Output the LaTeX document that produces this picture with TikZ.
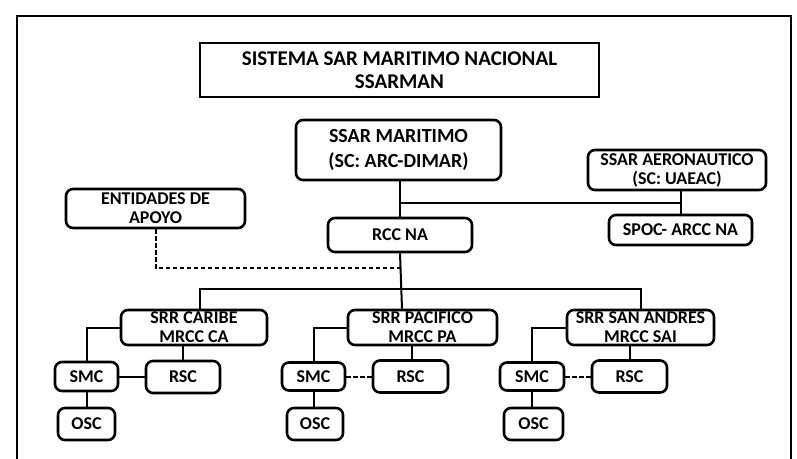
\documentclass[tikz,border=0pt]{standalone}
\usepackage{fontspec}
\setmainfont{Carlito}
\begin{document}
\begin{tikzpicture}[x=1pt,y=-1pt,
  box/.style={draw=black,line width=2.6pt,rounded corners=7pt,inner sep=0pt,align=center,font=\bfseries\fontsize{18}{19}\selectfont},
  bigbox/.style={box,font=\bfseries\fontsize{20}{25}\selectfont},
  titlebox/.style={draw=black,line width=2.4pt,inner sep=0pt,align=center,font=\bfseries\fontsize{21}{23}\selectfont},
  conn/.style={line width=2pt},
  dconn/.style={line width=2pt,dash pattern=on 4.5pt off 2.5pt}]
\useasboundingbox (0,0) rectangle (797,458);
\draw[line width=2pt] (17,470) -- (17,16) -- (791,16) -- (791,470);
% top level
\node[titlebox,minimum width=399,minimum height=54] (title) at (399.5,70) {SISTEMA SAR MARITIMO NACIONAL\\SSARMAN};
\node[bigbox,minimum width=205,minimum height=60] (ssarm) at (398.5,150) {SSAR MARITIMO\\(SC: ARC-DIMAR)};
\node[box,minimum width=178,minimum height=40] (aero) at (677,170) {SSAR AERONAUTICO\\(SC: UAEAC)};
\node[box,minimum width=179,minimum height=39] (ent) at (155.5,208.5) {ENTIDADES DE\\APOYO};
\node[box,minimum width=144,minimum height=34] (rcc) at (400,235) {RCC NA};
\node[box,minimum width=143,minimum height=30] (spoc) at (680.5,230) {SPOC- ARCC NA};
% regions
\node[box,minimum width=146,minimum height=35] (car) at (194,327.5) {SRR CARIBE\\MRCC CA};
\node[box,minimum width=149,minimum height=35] (pac) at (422.5,327.5) {SRR PACIFICO\\MRCC PA};
\node[box,minimum width=147,minimum height=35] (sa) at (640.5,327.5) {SRR SAN ANDRES\\MRCC SAI};
% caribe children
\node[box,minimum width=63,minimum height=29] (csmc) at (86.5,376.5) {SMC};
\node[box,minimum width=74,minimum height=32] (crsc) at (183,377) {RSC};
\node[box,minimum width=57,minimum height=32] (cosc) at (86.5,424) {OSC};
% pacifico children
\node[box,minimum width=63,minimum height=28] (psmc) at (313.5,376.5) {SMC};
\node[box,minimum width=75,minimum height=32] (prsc) at (410.5,376.5) {RSC};
\node[box,minimum width=56,minimum height=32] (posc) at (315,424) {OSC};
% san andres children
\node[box,minimum width=64,minimum height=28] (ssmc) at (532,376.5) {SMC};
\node[box,minimum width=75,minimum height=32] (srsc) at (629.5,376.5) {RSC};
\node[box,minimum width=59,minimum height=32] (sosc) at (533.5,424) {OSC};
% connectors
\coordinate (j1) at (400,203);
\coordinate (d1) at (400,268);
\coordinate (bus) at (400,289);
\draw[conn] (ssarm.south -| rcc.north) -- (rcc.north);
\draw[conn] (j1) -- (j1 -| spoc.north);
\draw[conn] (aero.south -| spoc.north) -- (spoc.north);
\draw[dconn] (ent.south) |- (d1);
\draw[conn] (rcc.south) -- ([xshift=2pt]rcc.south |- pac.north);
\draw[conn] ([xshift=6pt]car.north) -- ([xshift=6pt]car.north |- bus) -- (sa.north |- bus) -- (sa.north);
% caribe
\draw[conn] (car.west) -| (csmc.north);
\draw[conn] (car.south -| crsc.north) -- (crsc.north);
\draw[conn] (csmc.east) -- (csmc.east -| crsc.west);
\draw[conn] (csmc.south) -- (csmc.south |- cosc.north);
% pacifico
\draw[conn] (pac.west) -| (psmc.north);
\draw[conn] ([xshift=1.5pt]pac.south -| prsc.north) -- ([xshift=1.5pt]prsc.north);
\draw[dconn] (psmc.east) -- (psmc.east -| prsc.west);
\draw[conn] (psmc.south) -- (psmc.south |- posc.north);
% san andres
\draw[conn] (sa.west) -| (ssmc.north);
\draw[conn] (sa.south -| srsc.north) -- (srsc.north);
\draw[dconn] (ssmc.east) -- (ssmc.east -| srsc.west);
\draw[conn] (ssmc.south) -- (ssmc.south |- sosc.north);
\end{tikzpicture}
\end{document}
